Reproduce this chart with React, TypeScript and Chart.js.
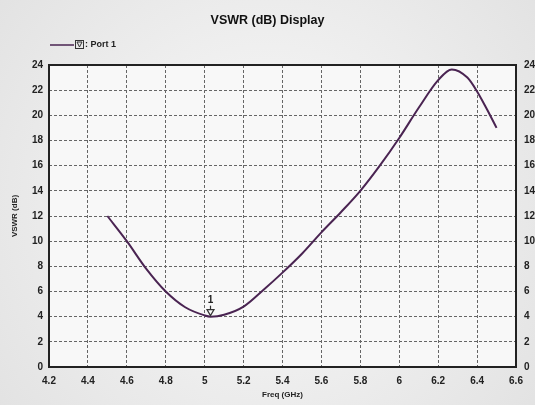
import React, { useEffect, useRef } from "react";
import { Chart, registerables } from "chart.js";

Chart.register(...registerables);

const freqs = [4.5, 4.6, 4.7, 4.8, 4.9, 5.0, 5.03, 5.1, 5.2, 5.3, 5.4, 5.5, 5.6, 5.7, 5.8, 5.9, 6.0, 6.1, 6.2, 6.27, 6.35, 6.4, 6.45, 6.5];
const vswr = [12, 10, 7.8, 6.0, 4.75, 4.1, 4.0, 4.15, 4.8, 6.1, 7.5, 9.0, 10.7, 12.3, 14.0, 16.0, 18.2, 20.6, 22.8, 23.65, 23.0, 21.9, 20.5, 19.0];
const xTicks = [4.2, 4.4, 4.6, 4.8, 5, 5.2, 5.4, 5.6, 5.8, 6, 6.2, 6.4, 6.6];
const yTicks = [0, 2, 4, 6, 8, 10, 12, 14, 16, 18, 20, 22, 24];
const markerFreq = 5.03;
const markerValue = 4.0;
const markerLabel = "1";
const seriesName = "Port 1";
const titleText = "VSWR (dB) Display";
const xTitle = "Freq (GHz)";
const yTitle = "VSWR (dB)";

const FONT = "'Liberation Sans', Arial, sans-serif";
const LINE = "#4a2452";

const decor = {
  id: "decor",
  beforeDraw(chart: any) {
    const { ctx, width, height, chartArea: a } = chart;
    ctx.save();
    const g = ctx.createRadialGradient(width / 2, height / 2, 40, width / 2, height / 2, width * 0.7);
    g.addColorStop(0, "#f7f7f7");
    g.addColorStop(1, "#e0e0e0");
    ctx.fillStyle = g;
    ctx.fillRect(0, 0, width, height);
    ctx.fillStyle = "#f8f8f8";
    ctx.fillRect(a.left, a.top, a.right - a.left, a.bottom - a.top);
    ctx.restore();
  },
  afterDraw(chart: any) {
    const { ctx, chartArea: a, scales } = chart;
    ctx.save();
    // frame
    ctx.strokeStyle = "#222";
    ctx.lineWidth = 2;
    ctx.strokeRect(a.left, a.top, a.right - a.left, a.bottom - a.top);
    // marker
    const mx = scales.x.getPixelForValue(markerFreq);
    const my = scales.y.getPixelForValue(markerValue);
    ctx.strokeStyle = "#333";
    ctx.lineWidth = 1.2;
    ctx.beginPath();
    ctx.moveTo(mx, my - 1);
    ctx.lineTo(mx - 3.5, my - 7);
    ctx.lineTo(mx + 3.5, my - 7);
    ctx.closePath();
    ctx.stroke();
    ctx.beginPath();
    ctx.moveTo(mx, my - 7);
    ctx.lineTo(mx, my - 11);
    ctx.stroke();
    ctx.fillStyle = "#222";
    ctx.font = `bold 10px ${FONT}`;
    ctx.textAlign = "center";
    ctx.textBaseline = "bottom";
    ctx.fillText(markerLabel, mx, my - 11);
    // legend
    const ly = 45;
    ctx.strokeStyle = LINE;
    ctx.lineWidth = 1.5;
    ctx.beginPath();
    ctx.moveTo(50, ly);
    ctx.lineTo(74, ly);
    ctx.stroke();
    ctx.strokeStyle = "#333";
    ctx.lineWidth = 1;
    ctx.strokeRect(75.5, ly - 4.5, 8, 8);
    ctx.beginPath();
    ctx.moveTo(77, ly - 3);
    ctx.lineTo(82, ly - 3);
    ctx.lineTo(79.5, ly + 2);
    ctx.closePath();
    ctx.stroke();
    ctx.fillStyle = "#222";
    ctx.font = `bold 9px ${FONT}`;
    ctx.textAlign = "left";
    ctx.textBaseline = "middle";
    ctx.fillText(": " + seriesName, 85, ly);
    ctx.restore();
  },
};

export default function App() {
  const ref = useRef<HTMLCanvasElement | null>(null);
  useEffect(() => {
    if (!ref.current) return;
    const tickFont = { family: FONT, size: 10, weight: "bold" as const };
    const gridDash = { color: "#666", lineWidth: 1, drawTicks: false };
    const chart = new Chart(ref.current, {
      type: "line",
      data: {
        datasets: [
          {
            label: seriesName,
            data: freqs.map((f, i) => ({ x: f, y: vswr[i] })),
            borderColor: LINE,
            borderWidth: 2,
            pointRadius: 0,
            cubicInterpolationMode: "monotone",
            fill: false,
          },
        ],
      },
      options: {
        animation: false,
        responsive: false,
        layout: { padding: 0 },
        plugins: {
          legend: { display: false },
          tooltip: { enabled: false },
          title: {
            display: true,
            text: titleText,
            color: "#111",
            font: { family: FONT, size: 12.5, weight: "bold" },
            padding: { top: 13, bottom: 37 },
          },
        },
        scales: {
          x: {
            type: "linear",
            min: 4.2,
            max: 6.6,
            afterBuildTicks: (s: any) => {
              s.ticks = xTicks.map((v) => ({ value: v }));
            },
            afterFit: (s: any) => {
              s.height = 38;
            },
            ticks: {
              color: "#222",
              font: tickFont,
              padding: 8,
              maxRotation: 0,
              autoSkip: false,
              callback: (v: any) => String(Number(Number(v).toFixed(1))),
            },
            grid: gridDash,
            border: { display: false, dash: [3, 2] },
            title: {
              display: true,
              text: xTitle,
              color: "#222",
              font: { family: FONT, size: 8, weight: "bold" },
              padding: { top: 0, bottom: 5 },
            },
          },
          y: {
            type: "linear",
            position: "left",
            min: 0,
            max: 24,
            afterBuildTicks: (s: any) => {
              s.ticks = yTicks.map((v) => ({ value: v }));
            },
            afterFit: (s: any) => {
              s.width = 49;
            },
            ticks: { color: "#222", font: tickFont, padding: 6, autoSkip: false },
            grid: gridDash,
            border: { display: false, dash: [3, 2] },
            title: {
              display: true,
              text: yTitle,
              color: "#222",
              font: { family: FONT, size: 8, weight: "bold" },
              padding: { top: 10, bottom: 0 },
            },
          },
          y2: {
            type: "linear",
            position: "right",
            min: 0,
            max: 24,
            afterBuildTicks: (s: any) => {
              s.ticks = yTicks.map((v) => ({ value: v }));
            },
            afterFit: (s: any) => {
              s.width = 19;
            },
            ticks: { color: "#222", font: tickFont, padding: 8, autoSkip: false },
            grid: { display: false, drawTicks: false },
            border: { display: false },
          },
        },
      } as any,
      plugins: [decor],
    });
    return () => chart.destroy();
  }, []);
  return (
    <div style={{ position: "fixed", left: 0, top: 0, width: 535, height: 405 }}>
      <canvas ref={ref} width={535} height={405} style={{ width: 535, height: 405, display: "block" }} />
    </div>
  );
}
